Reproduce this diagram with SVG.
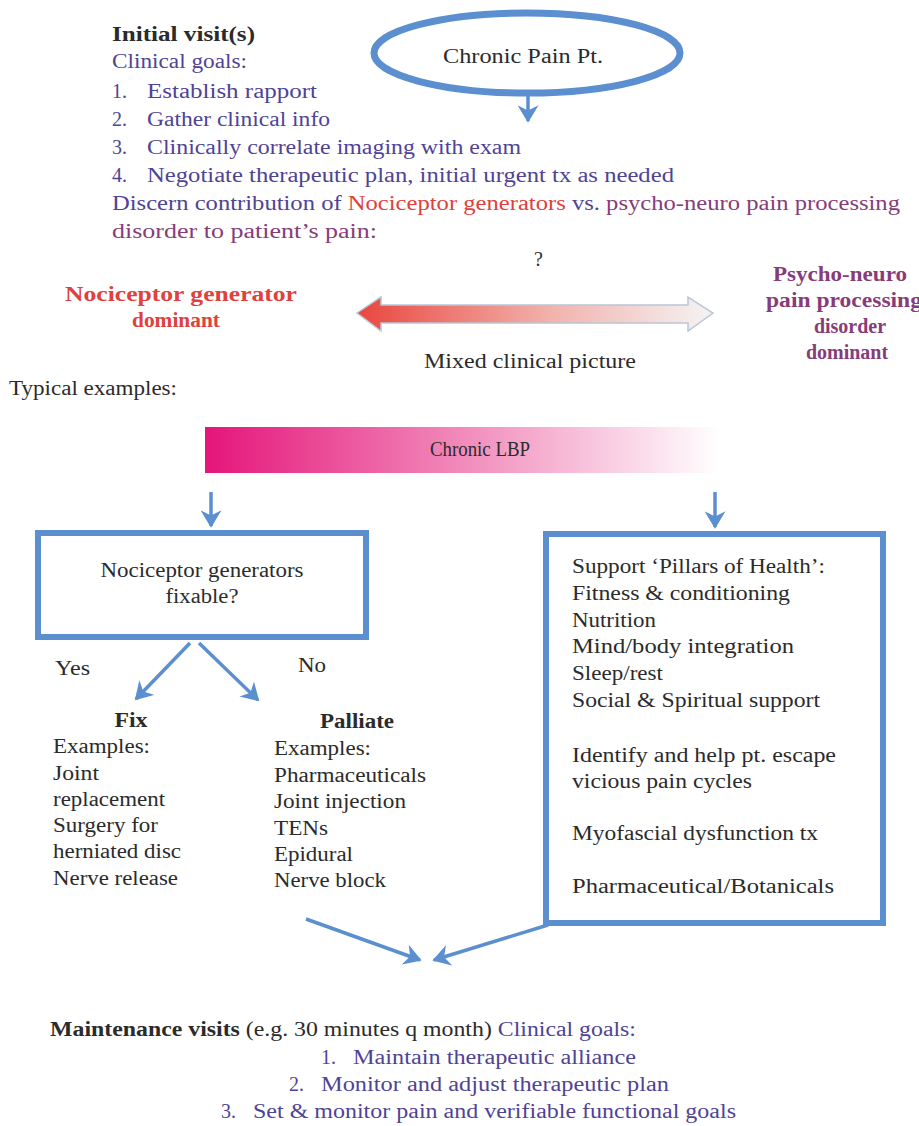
<svg xmlns="http://www.w3.org/2000/svg" width="919" height="1126" viewBox="0 0 919 1126">
<style>
text{font-family:"Liberation Serif","DejaVu Serif",serif;font-size:20px;fill:#2b2b2b}
.b{font-weight:bold}
.pu{fill:#4f4396}
.rd{fill:#e0413c}
.mg{fill:#873c7a}
.box{fill:#fff;stroke:#5b8fcf;stroke-width:6}
.con{stroke:#5b8fcf;stroke-width:3.5;fill:none}
</style>
<defs>
<marker id="ah" markerWidth="6" markerHeight="6" refX="4.5" refY="3" orient="auto" markerUnits="strokeWidth">
<path d="M0,0 L5,3 L0,6 L1.5,3 Z" fill="#5b8fcf"/>
</marker>
<linearGradient id="dbl" x1="0" x2="1" y1="0" y2="0">
<stop offset="0" stop-color="#e8473f"/>
<stop offset="0.55" stop-color="#f2b3ad"/>
<stop offset="1" stop-color="#f4f4f4"/>
</linearGradient>
<linearGradient id="lbp" x1="0" x2="1" y1="0" y2="0">
<stop offset="0" stop-color="#e5157a"/>
<stop offset="0.5" stop-color="#f18bbb"/>
<stop offset="1" stop-color="#ffffff"/>
</linearGradient>
</defs>

<g id="intro">
<text class="b" x="112" y="41" textLength="143" lengthAdjust="spacingAndGlyphs">Initial visit(s)</text>
<text class="pu" x="112" y="68" textLength="135" lengthAdjust="spacingAndGlyphs">Clinical goals:</text>
<text class="pu" x="112" y="98">1.</text><text class="pu" x="147" y="98" textLength="170" lengthAdjust="spacingAndGlyphs">Establish rapport</text>
<text class="pu" x="112" y="126">2.</text><text class="pu" x="147" y="126" textLength="183" lengthAdjust="spacingAndGlyphs">Gather clinical info</text>
<text class="pu" x="112" y="154">3.</text><text class="pu" x="147" y="154" textLength="374" lengthAdjust="spacingAndGlyphs">Clinically correlate imaging with exam</text>
<text class="pu" x="112" y="182">4.</text><text class="pu" x="147" y="182" textLength="527" lengthAdjust="spacingAndGlyphs">Negotiate therapeutic plan, initial urgent tx as needed</text>
<text class="pu" x="112" y="210" textLength="788" lengthAdjust="spacingAndGlyphs">Discern contribution of <tspan class="rd">Nociceptor generators</tspan> vs. <tspan class="mg">psycho-neuro pain processing</tspan></text>
<text class="mg" x="112" y="238" textLength="265" lengthAdjust="spacingAndGlyphs">disorder to patient’s pain:</text>
<text x="534" y="266" font-size="22">?</text>
</g>

<g id="chronic-pain-pt">
<ellipse cx="527" cy="53" rx="153" ry="40" fill="#fff" stroke="#5b8fcf" stroke-width="7"/>
<text x="523" y="63" text-anchor="middle" font-size="23" textLength="160" lengthAdjust="spacingAndGlyphs">Chronic Pain Pt.</text>
</g>

<g id="nociceptor-dominant">
<text class="b rd" x="181" y="301" text-anchor="middle" font-size="22" textLength="232" lengthAdjust="spacingAndGlyphs">Nociceptor  generator</text>
<text class="b rd" x="176" y="327" text-anchor="middle" font-size="22" textLength="88" lengthAdjust="spacingAndGlyphs">dominant</text>
</g>

<g id="spectrum">
<path d="M357,313 L381,297 L381,305 L688,305 L688,297 L713,313 L688,331 L688,323 L381,323 L381,331 Z" fill="url(#dbl)" stroke="#b9c6d6" stroke-width="1.5"/>
<text x="530" y="368" text-anchor="middle" textLength="212" lengthAdjust="spacingAndGlyphs">Mixed clinical picture</text>
</g>

<g id="psycho-dominant">
<text class="b mg" x="840" y="281" text-anchor="middle" textLength="134" lengthAdjust="spacingAndGlyphs">Psycho-neuro</text>
<text class="b mg" x="766" y="307" textLength="156" lengthAdjust="spacingAndGlyphs">pain processing</text>
<text class="b mg" x="850" y="333" text-anchor="middle">disorder</text>
<text class="b mg" x="847" y="359" text-anchor="middle">dominant</text>
</g>

<g id="typical">
<text x="9" y="395" textLength="168" lengthAdjust="spacingAndGlyphs">Typical examples:</text>
</g>

<g id="chronic-lbp">
<rect x="205" y="427" width="515" height="46" fill="url(#lbp)"/>
<text x="480" y="456" text-anchor="middle" font-size="19" textLength="100" lengthAdjust="spacingAndGlyphs">Chronic LBP</text>
</g>

<g id="fixable">
<rect class="box" x="38" y="533" width="328" height="104"/>
<text x="202" y="577" text-anchor="middle" textLength="203" lengthAdjust="spacingAndGlyphs">Nociceptor generators</text>
<text x="202" y="603" text-anchor="middle" textLength="73" lengthAdjust="spacingAndGlyphs">fixable?</text>
</g>

<g id="fix">
<text x="131" y="727" text-anchor="middle" class="b" textLength="33" lengthAdjust="spacingAndGlyphs">Fix</text>
<text x="53" y="753" textLength="97" lengthAdjust="spacingAndGlyphs">Examples:</text>
<text x="53" y="780" textLength="46" lengthAdjust="spacingAndGlyphs">Joint</text>
<text x="53" y="806" textLength="112" lengthAdjust="spacingAndGlyphs">replacement</text>
<text x="53" y="832" textLength="105" lengthAdjust="spacingAndGlyphs">Surgery for</text>
<text x="53" y="858" textLength="128" lengthAdjust="spacingAndGlyphs">herniated disc</text>
<text x="53" y="885" textLength="125" lengthAdjust="spacingAndGlyphs">Nerve release</text>
</g>

<g id="palliate">
<text x="357" y="728" text-anchor="middle" class="b" textLength="74" lengthAdjust="spacingAndGlyphs">Palliate</text>
<text x="274" y="755" textLength="97" lengthAdjust="spacingAndGlyphs">Examples:</text>
<text x="274" y="782" textLength="152" lengthAdjust="spacingAndGlyphs">Pharmaceuticals</text>
<text x="274" y="808" textLength="132" lengthAdjust="spacingAndGlyphs">Joint injection</text>
<text x="274" y="835" textLength="54" lengthAdjust="spacingAndGlyphs">TENs</text>
<text x="274" y="861" textLength="79" lengthAdjust="spacingAndGlyphs">Epidural</text>
<text x="274" y="887" textLength="112" lengthAdjust="spacingAndGlyphs">Nerve block</text>
</g>

<g id="pillars">
<rect class="box" x="546" y="534" width="337" height="389"/>
<text x="572" y="573" textLength="253" lengthAdjust="spacingAndGlyphs">Support ‘Pillars of Health’:</text>
<text x="572" y="600" textLength="218" lengthAdjust="spacingAndGlyphs">Fitness &amp; conditioning</text>
<text x="572" y="627" textLength="84" lengthAdjust="spacingAndGlyphs">Nutrition</text>
<text x="572" y="653" textLength="222" lengthAdjust="spacingAndGlyphs">Mind/body integration</text>
<text x="572" y="680" textLength="91" lengthAdjust="spacingAndGlyphs">Sleep/rest</text>
<text x="572" y="707" textLength="248" lengthAdjust="spacingAndGlyphs">Social &amp; Spiritual support</text>
<text x="572" y="762" textLength="264" lengthAdjust="spacingAndGlyphs">Identify and help pt. escape</text>
<text x="572" y="788" textLength="180" lengthAdjust="spacingAndGlyphs">vicious pain cycles</text>
<text x="572" y="840" textLength="246" lengthAdjust="spacingAndGlyphs">Myofascial dysfunction tx</text>
<text x="572" y="893" textLength="262" lengthAdjust="spacingAndGlyphs">Pharmaceutical/Botanicals</text>
</g>

<g id="maintenance">
<text x="50" y="1036" textLength="586" lengthAdjust="spacingAndGlyphs"><tspan class="b">Maintenance visits</tspan> (e.g. 30 minutes q month) <tspan class="pu">Clinical goals:</tspan></text>
<text class="pu" x="321" y="1064">1.</text><text class="pu" x="353" y="1064" textLength="283" lengthAdjust="spacingAndGlyphs">Maintain therapeutic alliance</text>
<text class="pu" x="289" y="1091">2.</text><text class="pu" x="321" y="1091" textLength="348" lengthAdjust="spacingAndGlyphs">Monitor and adjust therapeutic plan</text>
<text class="pu" x="221" y="1118">3.</text><text class="pu" x="253" y="1118" textLength="483" lengthAdjust="spacingAndGlyphs">Set &amp; monitor pain and verifiable functional goals</text>
</g>

<g id="connectors">
<line class="con" x1="528" y1="95" x2="528" y2="121" stroke-width="6" marker-end="url(#ah)"/>
<line class="con" x1="211" y1="492" x2="211" y2="526" marker-end="url(#ah)"/>
<line class="con" x1="715" y1="492" x2="715" y2="527" marker-end="url(#ah)"/>
<line class="con" x1="190" y1="643" x2="136" y2="699" marker-end="url(#ah)"/>
<line class="con" x1="199" y1="643" x2="258" y2="700" marker-end="url(#ah)"/>
<text x="55" y="675" textLength="35" lengthAdjust="spacingAndGlyphs">Yes</text>
<text x="298" y="672" textLength="28" lengthAdjust="spacingAndGlyphs">No</text>
<line class="con" x1="306" y1="919" x2="420" y2="960" marker-end="url(#ah)"/>
<line class="con" x1="548" y1="925" x2="434" y2="960" marker-end="url(#ah)"/>
</g>
</svg>
